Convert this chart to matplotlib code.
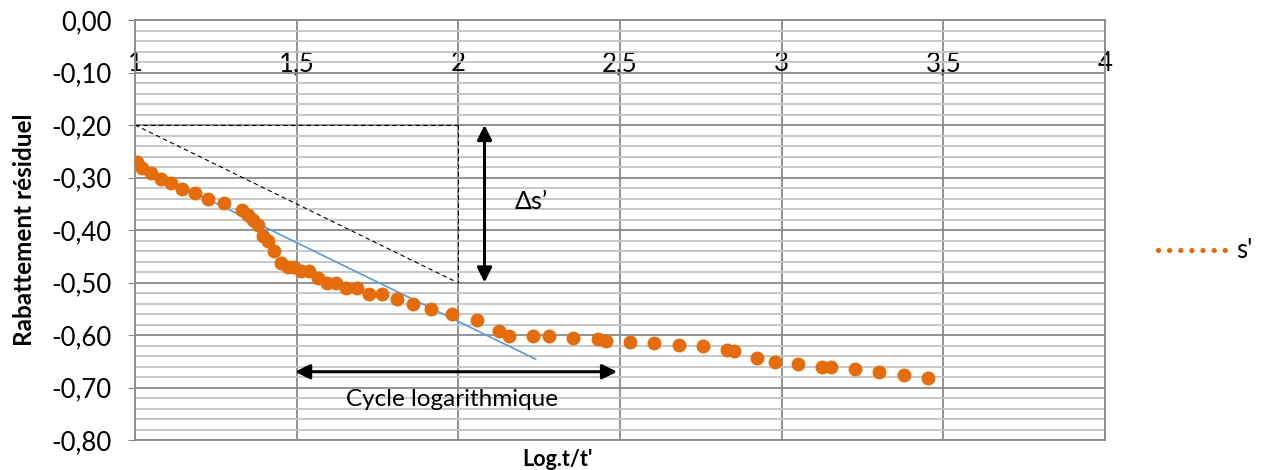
import matplotlib.pyplot as plt
from matplotlib.lines import Line2D
import numpy as np

plt.rcParams['font.family'] = ['Lato', 'DejaVu Sans']

# s' points (Log.t/t', rabattement residuel)
logt = [1.005, 1.021, 1.049, 1.079, 1.111, 1.146, 1.186, 1.225, 1.276, 1.332,
        1.348, 1.366, 1.379, 1.395, 1.412, 1.430, 1.452, 1.472, 1.493, 1.513,
        1.538, 1.567, 1.593, 1.621, 1.653, 1.686, 1.723, 1.764, 1.809, 1.859,
        1.915, 1.981, 2.059, 2.127, 2.157, 2.232, 2.281, 2.356, 2.431, 2.457,
        2.531, 2.606, 2.681, 2.756, 2.830, 2.853, 2.925, 2.980, 3.050, 3.126,
        3.153, 3.227, 3.302, 3.377, 3.452]
s_res = [-0.270, -0.281, -0.291, -0.302, -0.311, -0.321, -0.330, -0.341, -0.349, -0.361,
         -0.371, -0.381, -0.390, -0.411, -0.421, -0.440, -0.462, -0.471, -0.471, -0.479,
         -0.479, -0.491, -0.500, -0.500, -0.510, -0.510, -0.521, -0.521, -0.531, -0.541,
         -0.551, -0.560, -0.571, -0.592, -0.601, -0.601, -0.601, -0.605, -0.608, -0.611,
         -0.614, -0.616, -0.619, -0.621, -0.629, -0.630, -0.643, -0.651, -0.655, -0.660,
         -0.660, -0.665, -0.671, -0.676, -0.681]

# droite d'ajustement
fit_x = [1.0, 2.239]
fit_y = [-0.274, -0.646]

# construction en pointilles
dash_h_x = [1.0, 2.0]
dash_h_y = [-0.20, -0.20]
dash_v_x = [2.0, 2.0]
dash_v_y = [-0.20, -0.50]
dash_d_x = [1.0, 1.987]
dash_d_y = [-0.20, -0.497]

xticks = [1, 1.5, 2, 2.5, 3, 3.5, 4]
xlabels = ['1', '1,5', '2', '2,5', '3', '3,5', '4']
yticks = [0, -0.1, -0.2, -0.3, -0.4, -0.5, -0.6, -0.7, -0.8]
ylabels = ['0,00', '-0,10', '-0,20', '-0,30', '-0,40', '-0,50', '-0,60', '-0,70', '-0,80']

orange = '#E46C0A'

fig = plt.figure(figsize=(12.61, 4.70), dpi=100)
ax = fig.add_axes([135/1261, 30/470, 970/1261, 420/470])

ax.set_xlim(1, 4)
ax.set_ylim(-0.8, 0)
ax.set_xticks(xticks)
ax.set_xticklabels(xlabels)
ax.set_yticks(yticks)
ax.set_yticklabels(ylabels)
ax.set_yticks(np.arange(-0.8, 0.001, 0.02), minor=True)

ax.grid(which='minor', axis='y', color='#c4c4c4', lw=1.3)
ax.grid(which='major', axis='y', color='#8a8a8a', lw=1.3)
ax.grid(which='major', axis='x', color='#8a8a8a', lw=1.3)
ax.set_axisbelow(True)
for sp in ax.spines.values():
    sp.set_color('#8a8a8a')
    sp.set_linewidth(1.3)

ax.tick_params(axis='y', which='major', length=5, color='#8a8a8a', labelsize=18.5, pad=12)
ax.tick_params(axis='y', which='minor', length=0)
ax.tick_params(axis='x', length=0, bottom=False, top=False, labelbottom=False,
               labeltop=True, labelsize=18.5, pad=-31.5)
for lbl in ax.get_xticklabels():
    lbl.set_va('center')

ax.plot(dash_h_x, dash_h_y, color='black', lw=0.8, ls=(0, (4, 3)))
ax.plot(dash_v_x, dash_v_y, color='black', lw=0.8, ls=(0, (4, 3)))
ax.plot(dash_d_x, dash_d_y, color='black', lw=0.8, ls=(0, (4, 3)))

ax.plot(fit_x, fit_y, color='#5B9BD5', lw=1.2, zorder=3)
ax.plot(logt, s_res, ls='none', marker='o', ms=9, color=orange, zorder=4)

ax.annotate('', xy=(2.081, -0.200), xytext=(2.081, -0.500),
            arrowprops=dict(arrowstyle='<|-|>', color='black', lw=2.2,
                            mutation_scale=22, shrinkA=0, shrinkB=0))
ax.annotate('', xy=(1.495, -0.670), xytext=(2.491, -0.670),
            arrowprops=dict(arrowstyle='<|-|>', color='black', lw=2.2,
                            mutation_scale=22, shrinkA=0, shrinkB=0))
ax.text(2.225, -0.346, 'Δs’', fontsize=18, ha='center', va='center')
ax.text(1.979, -0.722, 'Cycle logarithmique', fontsize=17.5, ha='center', va='center')

ax.set_ylabel('Rabattement résiduel', fontsize=17.5, fontweight='bold')
ax.yaxis.set_label_coords(-0.102, 0.5)
ax.set_xlabel("Log.t/t'", fontsize=15.5, fontweight='bold')
ax.xaxis.set_label_coords((557 - 135) / 970, -0.021)

handle = Line2D([0], [0], color=orange, lw=3.8, ls=(0, (0.01, 2.1)),
                dash_capstyle='round')
fig.legend([handle], ["s'"], loc='center left', bbox_to_anchor=(1135/1261, 1 - 251/470),
           frameon=False, fontsize=18.5, handlelength=2.7, handletextpad=0.35)

fig.savefig('out.png', dpi=100)
